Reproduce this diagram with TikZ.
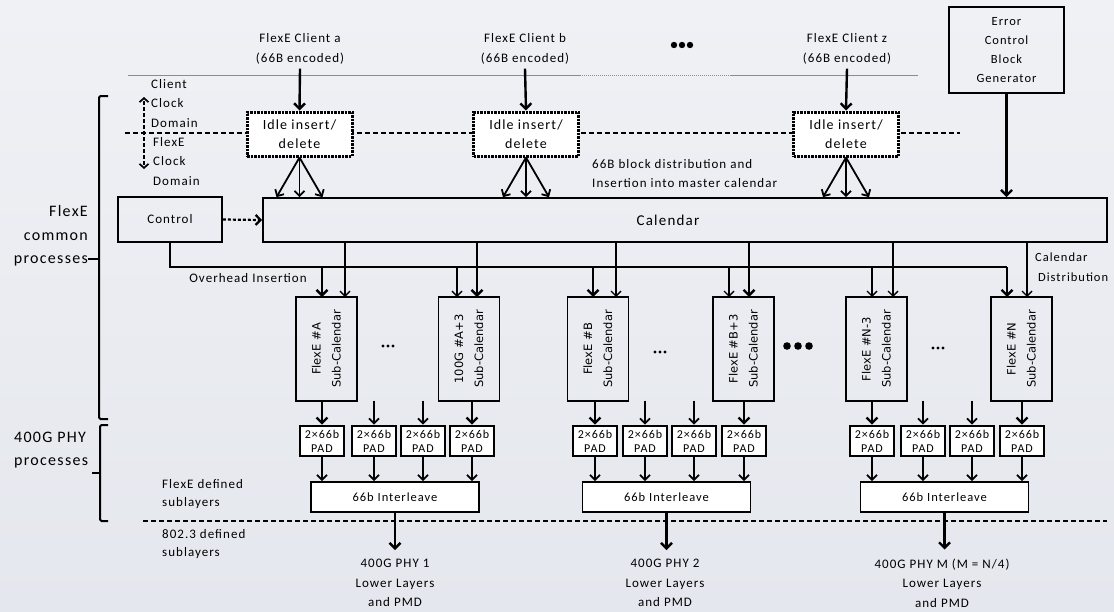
\documentclass[tikz,border=0pt]{standalone}
\usepackage{fontspec}
\setmainfont{Carlito}[LetterSpace=8]
\newfontfamily\subfont{DejaVu Sans}
\usetikzlibrary{arrows.meta,calc}
\newcommand\fsz[2]{\fontsize{#1}{#2}\selectfont}
\definecolor{bgtop}{RGB}{240,241,245}
\definecolor{bgbot}{RGB}{228,231,237}
\definecolor{linegray}{RGB}{140,140,140}
\begin{document}
\begin{tikzpicture}[x=1pt,y=-1pt,
  box/.style={draw, line width=1.7pt, inner sep=0pt, align=center},
  idle/.style={draw, fill=white, line width=3pt, dash pattern=on 2.5pt off 1pt,
     minimum width=105pt, minimum height=44pt, inner sep=0pt, align=center, font=\fsz{14}{19}},
  subbox/.style={draw, line width=1.9pt, minimum width=61pt, minimum height=104pt, inner sep=0pt},
  pad/.style={draw, fill=white, line width=2.6pt, minimum width=44pt, minimum height=30pt,
     inner sep=0pt, align=center, font=\fsz{12}{14}},
  ilv/.style={draw, fill=white, line width=1.9pt, minimum width=168pt, minimum height=30pt,
     inner sep=0pt, font=\fsz{12.5}{15}},
  lbl/.style={align=center, inner sep=0pt, font=\fsz{13}{19.5}},
  side/.style={inner sep=0pt, font=\fsz{16}{23.5}},
  arrK/.style={line width=2.4pt, -{Straight Barb[length=5.5pt,width=11pt]}},
  arrM/.style={line width=1.8pt, -{Straight Barb[length=5pt,width=10pt]}},
  arrN/.style={line width=1.4pt, -{Straight Barb[length=5pt,width=10pt]}},
  brk/.style={line width=2pt, rounded corners=1.5pt},
]
\useasboundingbox (0,0) rectangle (1114,611);
\shade[top color=bgtop, bottom color=bgbot] (0,0) rectangle (1114,611);

% ---- top client region
\draw[linegray, line width=1pt] (128,75.5) -- (580,75.5);
\draw[linegray, line width=1pt, densely dotted] (580,75.5) -- (730,75.5);
\draw[linegray, line width=1pt] (730,75.5) -- (918,75.5);
\draw[line width=1.5pt, dash pattern=on 5pt off 3pt] (125,133) -- (960,133);

\node[lbl, font=\fsz{13}{20}] (clA) at (300,49) {FlexE Client a\\(66B encoded)};
\node[lbl, font=\fsz{13}{20}] (clB) at (525,49) {FlexE Client b\\(66B encoded)};
\node[lbl, font=\fsz{13}{20}] (clZ) at (847,49) {FlexE Client z\\(66B encoded)};
\fill (674,45) circle (3.2) (682,45) circle (3.2) (690,45) circle (3.2);

\node[idle] (idleA) at (299.5,134) {Idle insert/\\delete};
\node[idle] (idleB) at (526,134) {Idle insert/\\delete};
\node[idle] (idleZ) at (846,134) {Idle insert/\\delete};

\draw[arrK] ([yshift=-4pt]clA.south) -- (idleA.north);
\draw[arrK] ([yshift=-4pt]clB.south) -- (idleB.north);
\draw[arrK] ([yshift=-4pt]clZ.south) -- (idleZ.north);

\node[lbl, align=left, anchor=west] (cdom) at (151,103.5) {Client\\Clock\\Domain};
\node[lbl, align=left, anchor=west] (fdom) at (153,161.5) {FlexE\\Clock\\Domain};
\coordinate (cd) at (144,133);
\draw[line width=1.7pt, dash pattern=on 4pt off 2pt, -{Straight Barb[length=4pt,width=9pt]}] ([yshift=-2pt]cd) -- ++(0,-38);
\draw[line width=1.7pt, dash pattern=on 4pt off 2pt, -{Straight Barb[length=4pt,width=9pt]}] ([yshift=2pt]cd) -- ++(0,38);

% ---- calendar, control, error block
\node[box, minimum width=844pt, minimum height=44pt] (cal) at (685,220) {};
\node[inner sep=0pt, font=\fsz{15}{18}] (caltxt) at (668,220) {Calendar};
\node[box, minimum width=104pt, minimum height=45pt, font=\fsz{13}{16}] (ctrl) at (170,219.5) {Control};
\node[box, minimum width=115pt, minimum height=86pt, font=\fsz{12.5}{19}] (err) at (1006.5,50) {Error\\Control\\Block\\Generator};

\draw[line width=2.2pt, dash pattern=on 3pt off 2pt, -{Straight Barb[length=5pt,width=10pt]}] (ctrl.east) -- (cal.west);
\draw[arrK] (err.south) -- (err.south |- cal.north);

\foreach \i in {A,B,Z}{
  \draw[arrM] (idle\i.south) -- ($(idle\i.south |- cal.north)+(-23,0)$);
  \draw[arrM] (idle\i.south) -- (idle\i.south |- cal.north);
  \draw[arrM] (idle\i.south) -- ($(idle\i.south |- cal.north)+(23,0)$);
}

\node[lbl, align=left, anchor=west, font=\fsz{13}{19}] (distl) at (592,173.5) {66B block distribution and\\Insertion into master calendar};

% ---- sub-calendars
\newcommand\subtxt[1]{\rotatebox{90}{\subfont\fsz{11.5}{20}\begin{tabular}{@{}c@{}}#1\\Sub-Calendar\end{tabular}}}
\node[subbox] (subA)  at (326.5,349) {\subtxt{FlexE \#A}};
\node[subbox] (subA3) at (469,349)   {\subtxt{100G \#A+3}};
\node[subbox] (subB)  at (598,349)   {\subtxt{FlexE \#B}};
\node[subbox] (subB3) at (743.5,349) {\subtxt{FlexE \#B+3}};
\node[subbox] (subN3) at (876.5,349) {\subtxt{FlexE \#N-3}};
\node[subbox] (subN)  at (1021.5,349){\subtxt{FlexE \#N}};

% overhead insertion bus
\coordinate (oh) at (170,267);
\coordinate (oA) at (322,297);  \coordinate (cA) at (345,297);
\coordinate (oA3) at (457,297); \coordinate (cA3) at (477,297);
\coordinate (oB) at (593,297);  \coordinate (cB) at (616,297);
\coordinate (oB3) at (729,297); \coordinate (cB3) at (749,297);
\coordinate (oN3) at (872,297); \coordinate (cN3) at (893,297);
\coordinate (oN) at (1007,297); \coordinate (cN) at (1027,297);
\draw[line width=1.1pt] (ctrl.south) -- (ctrl.south |- oh) -- (oN |- oh);

\draw[arrK] (oA |- oh) -- (oA);    \draw[arrN] (cA |- cal.south) -- (cA);
\draw[arrN] (oA3 |- oh) -- (oA3);  \draw[arrK] (cA3 |- cal.south) -- (cA3);
\draw[arrK] (oB |- oh) -- (oB);    \draw[arrN] (cB |- cal.south) -- (cB);
\draw[arrN] (oB3 |- oh) -- (oB3);  \draw[arrK] (cB3 |- cal.south) -- (cB3);
\draw[arrN] (oN3 |- oh) -- (oN3);  \draw[arrN] (cN3 |- cal.south) -- (cN3);
\draw[arrK] (oN |- oh) -- (oN);    \draw[arrN] (cN |- cal.south) -- (cN);

\node[lbl] (ohl) at (248,278) {Overhead Insertion};
\node[lbl, align=left, anchor=west, font=\fsz{12.5}{20}] (cdl) at (1035,267) {Calendar\\\hspace{3pt}Distribution};

% dots between sub-calendars
\fill (383,346) circle (1.6) (388,346) circle (1.6) (393,346) circle (1.6);
\fill (655,352) circle (1.6) (660,352) circle (1.6) (665,352) circle (1.6);
\fill (933,348) circle (1.6) (938,348) circle (1.6) (943,348) circle (1.6);
\fill (787,346) circle (3.8) (798,346) circle (3.8) (809,346) circle (3.8);

% ---- PADs and interleavers
\foreach \g/\xa/\xb/\xc/\xd in {A/322/374/423/472, B/595/645/694/744, N/872/923/972/1022}{
  \node[pad] (pad\g1) at (\xa,441) {2×66b\\PAD};
  \node[pad] (pad\g2) at (\xb,441) {2×66b\\PAD};
  \node[pad] (pad\g3) at (\xc,441) {2×66b\\PAD};
  \node[pad] (pad\g4) at (\xd,441) {2×66b\\PAD};
}
\node[ilv] (ilA) at (395,497) {66b Interleave};
\node[ilv] (ilB) at (666.5,497) {66b Interleave};
\node[ilv] (ilN) at (944.5,497) {66b Interleave};

\draw[arrK] (padA1 |- subA.south) -- (padA1.north);
\draw[arrM] ([yshift=24pt]padA2.north) -- (padA2.north);
\draw[arrM] ([yshift=24pt]padA3.north) -- (padA3.north);
\draw[arrK] (padA4 |- subA3.south) -- (padA4.north);
\draw[arrK] (padB1 |- subB.south) -- (padB1.north);
\draw[arrM] ([yshift=24pt]padB2.north) -- (padB2.north);
\draw[arrM] ([yshift=24pt]padB3.north) -- (padB3.north);
\draw[arrK] (padB4 |- subB3.south) -- (padB4.north);
\draw[arrK] (padN1 |- subN3.south) -- (padN1.north);
\draw[arrM] ([yshift=24pt]padN2.north) -- (padN2.north);
\draw[arrM] ([yshift=24pt]padN3.north) -- (padN3.north);
\draw[arrK] (padN4 |- subN.south) -- (padN4.north);

\foreach \g in {A,B,N}{
  \foreach \k in {1,2,3,4}{
    \draw[arrM] (pad\g\k.south) -- (pad\g\k.south |- il\g.north);
  }
}

\draw[line width=1.5pt, dash pattern=on 5pt off 3pt] (143,521) -- (1107,521);

\node[lbl] (phyA) at (395,583) {400G PHY 1\\Lower Layers\\and PMD};
\node[lbl] (phyB) at (665,583) {400G PHY 2\\Lower Layers\\and PMD};
\node[lbl] (phyN) at (942,583) {400G PHY M (M = N/4)\\Lower Layers\\and PMD};
\draw[arrK] (ilA.south) -- ([yshift=9pt]phyA.north -| ilA.south);
\draw[arrK] (ilB.south) -- ([yshift=9pt]phyB.north -| ilB.south);
\draw[arrK] (ilN.south) -- ([yshift=9pt]phyN.north -| ilN.south);

\node[lbl, align=left, anchor=west, font=\fsz{13}{18}] (fdl) at (162,494) {FlexE defined\\sublayers};
\node[lbl, align=left, anchor=west, font=\fsz{13}{18}] (sdl) at (162,544) {802.3 defined\\sublayers};

% ---- side brackets
\node[side, align=right, anchor=east] (fcp) at (88,236) {FlexE\\common\\processes};
\draw[brk] (108,96) -- (99,96) -- (99,419) -- (108,419);
\draw[line width=2pt] (99,259) -- (fcp.east |- 0,259);
\node[side, align=left, anchor=west] (pp) at (14,450) {400G PHY\\processes};
\draw[brk] (108,425) -- (100,425) -- (100,521) -- (108,521);
\draw[line width=2pt] (100,473) -- (92,473);
\end{tikzpicture}
\end{document}
